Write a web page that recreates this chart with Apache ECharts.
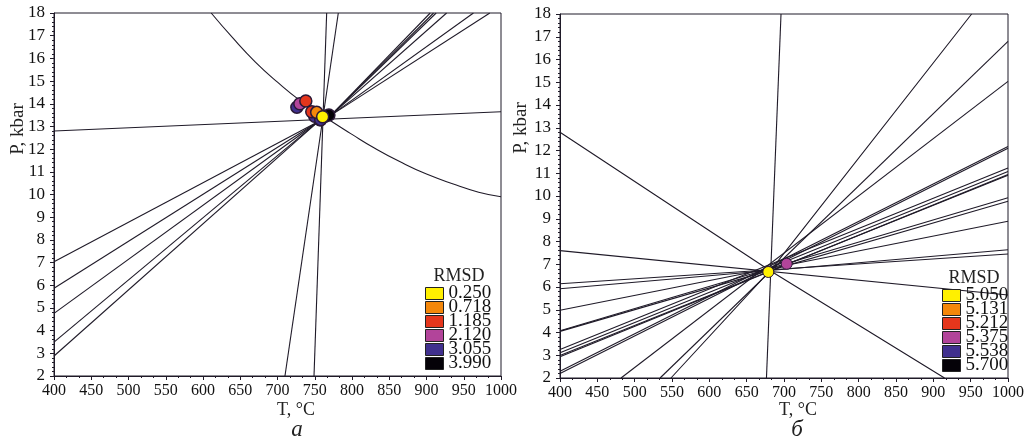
<!DOCTYPE html>
<html>
<head>
<meta charset="utf-8">
<script src="https://cdn.jsdelivr.net/npm/echarts@6/dist/echarts.min.js"></script>
<style>
html, body { margin: 0; padding: 0; background: #fff; }
#chart { width: 1029px; height: 444px; }
</style>
</head>
<body>
<div id="chart"></div>
<script>
// RMSD classes (legend) for both panels
const rmsdA = ['0.250', '0.718', '1.185', '2.120', '3.055', '3.990'];
const rmsdB = ['5.050', '5.131', '5.212', '5.375', '5.538', '5.700'];
const rmsdColors = ['#fff000', '#f4870a', '#e5361c', '#b2449a', '#40308e', '#050208'];

// P-T solutions [T, P] per RMSD class
const ptsA = [
  [[760.6, 13.43]],
  [[752.6, 13.62]],
  [[738, 14.12], [746, 13.65]],
  [[730, 14.0]],
  [[726, 13.85], [750, 13.45], [758, 13.3]],
  [[757, 13.3], [764, 13.45], [769, 13.5]]
];
const ptsB = [
  [[679, 6.66]],
  [],
  [],
  [[703.6, 7.02]],
  [],
  []
];

// reaction curves, panel а
const curveA = [[611, 18], [640, 16.9], [670, 15.85], [700, 14.95], [730, 14.15], [766, 13.36],
  [800, 12.65], [830, 12.05], [864, 11.45], [900, 10.9], [940, 10.42], [970, 10.1], [1000, 9.9]];
const straightA = [
  [[400, 12.8], [1000, 13.65]],
  [[766, 18], [749, 2]],
  [[781.6, 18], [710, 2]],
  [[400, 7.04], [755, 13.22]],
  [[400, 5.87], [755, 13.22]],
  [[400, 4.76], [755, 13.22]],
  [[400, 3.49], [755, 13.22]],
  [[400, 2.88], [755, 13.22]],
  [[772, 13.5], [905, 18]],
  [[772, 13.5], [909.5, 18]],
  [[772, 13.5], [913, 18]],
  [[772, 13.5], [927, 18]],
  [[772, 13.5], [963, 18]],
  [[772, 13.5], [985, 18]]
];

// reaction lines, panel б
const straightB = [
  [[400, 12.8], [680, 6.75], [915, 2]],
  [[400, 7.6], [1000, 5.65]],
  [[696, 18], [676.5, 2]],
  [[400, 6.14], [1000, 7.45]],
  [[400, 5.92], [1000, 7.64]],
  [[400, 4.98], [1000, 8.89]],
  [[400, 4.05], [1000, 9.77]],
  [[400, 4.08], [1000, 9.92]],
  [[400, 3.25], [1000, 11.23]],
  [[400, 3.11], [1000, 11.08]],
  [[400, 2.99], [1000, 10.91]],
  [[400, 2.93], [1000, 10.95]],
  [[400, 2.30], [1000, 12.18]],
  [[400, 2.20], [1000, 12.1]],
  [[481.7, 2], [1000, 15.04]],
  [[534, 2], [1000, 16.8]],
  [[548.6, 2], [685, 6.85], [951.3, 18]]
];

const serif = '"Liberation Serif", "Times New Roman", serif';
const ink = '#1f1a28';
const plain = function (v) { return String(v); };

function xAxisFor(i) {
  return {
    type: 'value', gridIndex: i, min: 400, max: 1000, interval: 50,
    axisLine: { show: true, lineStyle: { color: ink, width: 1 } },
    axisTick: { show: true, length: 4, lineStyle: { color: ink } },
    minorTick: { show: true, splitNumber: 3, length: 2, lineStyle: { color: ink } },
    splitLine: { show: false },
    axisLabel: { margin: 7, fontSize: 16, color: '#111', fontFamily: serif, formatter: plain, showMinLabel: true, showMaxLabel: true }
  };
}
function yAxisFor(i) {
  return {
    type: 'value', gridIndex: i, min: 2, max: 18, interval: 1,
    axisLine: { show: true, lineStyle: { color: ink, width: 1 } },
    axisTick: { show: true, length: 4, lineStyle: { color: ink } },
    minorTick: { show: true, splitNumber: 5, length: 2, lineStyle: { color: ink } },
    splitLine: { show: false },
    axisLabel: { margin: 9, fontSize: 17, color: '#111', fontFamily: serif, formatter: plain, showMinLabel: true, showMaxLabel: true }
  };
}

function lineSeries(pts, i, smooth) {
  return {
    type: 'line', xAxisIndex: i, yAxisIndex: i, data: pts,
    showSymbol: false, symbol: 'none', smooth: smooth || false, silent: true,
    lineStyle: { color: ink, width: 1.1 }, z: 2
  };
}

const series = [];
series.push(lineSeries(curveA, 0, true));
straightA.forEach(function (l) { series.push(lineSeries(l, 0)); });
straightB.forEach(function (l) { series.push(lineSeries(l, 1)); });

// draw darker classes first so yellow lands on top
for (let k = 5; k >= 0; k--) {
  series.push({
    type: 'scatter', name: rmsdA[k], xAxisIndex: 0, yAxisIndex: 0, data: ptsA[k],
    symbolSize: 12, z: 5,
    itemStyle: { color: rmsdColors[k], borderColor: '#2a1836', borderWidth: 1.5, opacity: 1 }
  });
  series.push({
    type: 'scatter', name: rmsdB[k], xAxisIndex: 1, yAxisIndex: 1, data: ptsB[k],
    symbolSize: 11, z: 5,
    itemStyle: { color: rmsdColors[k], borderColor: '#2a1836', borderWidth: 1, opacity: 1 }
  });
}

function legendAt(names, left, top) {
  return {
    data: names, left: left, top: top, orient: 'vertical', padding: 0,
    icon: 'rect', itemWidth: 18, itemHeight: 12, itemGap: -5, itemTextGap: 2,
    selectedMode: false,
    itemStyle: { borderColor: '#222', borderWidth: 1 },
    textStyle: { fontSize: 19, color: '#111', fontFamily: serif }
  };
}

function label(text, x, y, size, opts) {
  return Object.assign({
    type: 'text', x: x, y: y, silent: true,
    style: { text: text, x: 0, y: 0, fill: '#222', fontSize: size, fontFamily: serif, align: 'center', verticalAlign: 'middle' }
  }, opts || {});
}

const option = {
  animation: false,
  backgroundColor: '#fff',
  grid: [
    { left: 54, top: 13, width: 447, height: 363, show: true, borderColor: ink, borderWidth: 1 },
    { left: 560, top: 14, width: 448, height: 364, show: true, borderColor: ink, borderWidth: 1 }
  ],
  xAxis: [xAxisFor(0), xAxisFor(1)],
  yAxis: [yAxisFor(0), yAxisFor(1)],
  legend: [legendAt(rmsdA, 425, 284), legendAt(rmsdB, 942, 286)],
  graphic: [
    label('RMSD', 459, 276, 18),
    label('RMSD', 974, 278, 18),
    label('T, °C', 296, 410, 18),
    label('T, °C', 798, 410, 18),
    label('P, kbar', 18, 129, 19, { rotation: Math.PI / 2 }),
    label('P, kbar', 521, 128, 19, { rotation: Math.PI / 2 }),
    label('а', 297, 430, 23),
    label('б', 797, 430, 23)
  ],
  series: series
};
option.graphic[6].style.fontStyle = 'italic';
option.graphic[7].style.fontStyle = 'italic';

const chart = echarts.init(document.getElementById('chart'));
chart.setOption(option);
</script>
</body>
</html>
